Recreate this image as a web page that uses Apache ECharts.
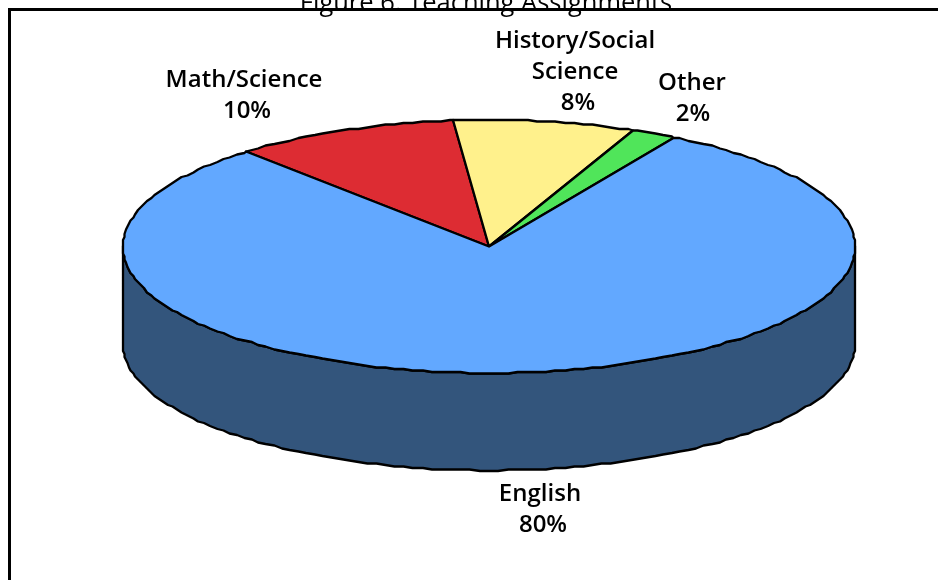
<!DOCTYPE html>
<html><head><meta charset="utf-8">
<style>html,body{margin:0;padding:0;background:#fff}#c{width:938px;height:580px}</style>
<script src="https://cdn.jsdelivr.net/npm/echarts@6/dist/echarts.min.js"></script>
</head><body><div id="c"></div>
<script>
const titleText = 'Figure 6. Teaching Assignments';
const categories = ['Math/Science', 'History/Social\nScience', 'Other', 'English'];
const shares = [10, 8, 2, 80];
const topColors = ['#dd2c33', '#fff18c', '#50e55a', '#62a8ff'];
const sideColor = '#33557c';
const startDeg = -41.6;         // clockwise from 12 o'clock
const depth = 0.77;             // wall height, in units of the vertical radius
const labelX = [244, 575, 692, 540];
const pctX = [247, 578, 693, 543];
const labelY = [80, 41, 83, 494];
const lineGap = 31;
const font = '"Open Sans", "Noto Sans", sans-serif';

const total = shares.reduce((a, b) => a + b, 0);
const chart = echarts.init(document.getElementById('c'), null, {renderer: 'canvas'});
const snap = p => [Math.round(p[0] / 1.5) * 1.5, Math.round(p[1] / 1.5) * 1.5];
const stepDeg = 1.5;

function renderItem(params, api) {
  const i = params.dataIndex;
  const before = shares.slice(0, i).reduce((a, b) => a + b, 0);
  const a0 = startDeg + before / total * 360;
  const a1 = a0 + api.value(1) / total * 360;
  const pt = (deg, drop) => {
    const r = deg * Math.PI / 180;
    return snap(api.coord([Math.sin(r), Math.cos(r) - (drop || 0)]));
  };
  // Rim samples on one fixed angular grid, so neighbouring shapes share their vertices.
  const arc = (from, to, drop) => {
    const lo = Math.min(from, to), hi = Math.max(from, to);
    const angs = [lo];
    for (let a = Math.ceil(lo / stepDeg + 1e-6) * stepDeg; a < hi; a += stepDeg) angs.push(a);
    angs.push(hi);
    if (from > to) angs.reverse();
    return angs.map(a => pt(a, drop));
  };
  const children = [];
  const line = {stroke: '#000', lineWidth: 2.3, lineJoin: 'round'};
  // Wall: the part of the slice's rim facing the viewer (90..270 deg clockwise from top)
  const f0 = Math.max(a0, 90), f1 = Math.min(a1, 270);
  if (f1 > f0) {
    const wall = arc(f0, f1, 0).concat(arc(f1, f0, depth));
    children.push({type: 'polygon', shape: {points: wall}, z2: 1,
      style: Object.assign({fill: sideColor}, line)});
  }
  const centre = api.coord([0, 0]);
  children.push({type: 'polygon', shape: {points: [centre].concat(arc(a0, a1, 0))}, z2: 2,
    style: Object.assign({fill: topColors[i]}, line)});
  return {type: 'group', children};
}

const labelGraphics = [];
categories.forEach((name, i) => {
  const lines = name.split('\n');
  lines.concat([shares[i] + '%']).forEach((t, k) => {
    labelGraphics.push({
      type: 'text', x: k === lines.length ? pctX[i] : labelX[i], y: labelY[i] + k * lineGap,
      style: {text: t, fill: '#000', font: '600 24px ' + font, align: 'center', verticalAlign: 'middle'}
    });
  });
});

chart.setOption({
  animation: false,
  backgroundColor: '#fff',
  title: {text: titleText, left: 481, textAlign: 'center', top: -14,
    textStyle: {color: '#000', fontFamily: font, fontSize: 25.5, fontWeight: 500}},
  grid: {left: 123, width: 732, top: 120, height: 253},
  xAxis: {type: 'value', min: -1, max: 1, show: false},
  yAxis: {type: 'value', min: -1, max: 1, show: false},
  series: [{
    type: 'custom', coordinateSystem: 'cartesian2d', clip: false,
    renderItem, encode: {x: 0, y: 1},
    data: categories.map((c, i) => ({name: c, value: [0, shares[i]]}))
  }],
  graphic: labelGraphics.concat([{
    type: 'polyline', z: 100,
    shape: {points: [[9.5, 590], [9.5, 9.5], [945, 9.5]]},
    style: {stroke: '#000', lineWidth: 3, fill: null}
  }])
});
</script></body></html>
